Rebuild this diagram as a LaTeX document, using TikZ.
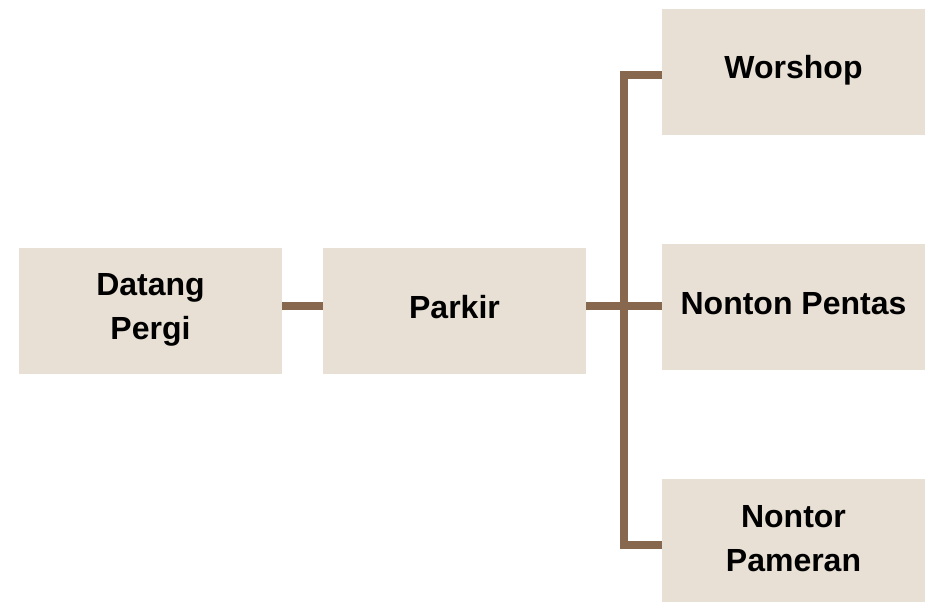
\documentclass[tikz,border=0pt]{standalone}
\usepackage{fontspec}
\setmainfont{Liberation Sans}
\definecolor{boxfill}{HTML}{E8E0D4}
\definecolor{linkc}{HTML}{87684F}
\begin{document}
\begin{tikzpicture}[x=1pt,y=1pt,
  box/.style={fill=boxfill,draw=none,minimum width=263pt,minimum height=126pt,inner sep=0pt},
  lbl/.style={inner sep=0pt,align=center,font=\fontsize{32}{44}\selectfont\bfseries,text=black},
  link/.style={draw=linkc,line width=8pt,line join=miter}]
\useasboundingbox (0,0) rectangle (934,602);
\node[box] (datang) at (150.5,291) {};
\node[box] (parkir) at (454.5,291) {};
\node[box] (worshop) at (793.5,530) {};
\node[box] (pentas) at (793.5,295) {};
\node[box] (pameran) at (793.5,60) {};
\node[lbl,yshift=1pt] (tdatang) at (datang.center) {Datang\\Pergi};
\node[lbl,yshift=3.5pt] (tparkir) at (parkir.center) {Parkir};
\node[lbl,yshift=1.5pt] (tworshop) at (worshop.center) {Worshop};
\node[lbl,yshift=3pt] (tpentas) at (pentas.center) {Nonton Pentas};
\node[lbl,yshift=3.5pt] (tpameran) at (pameran.center) {Nontor\\Pameran};
\coordinate (jt) at (624,527);
\coordinate (jm) at (624,296);
\coordinate (jb) at (624,57);
\draw[link] ([yshift=5pt]datang.east) -- ([yshift=5pt]parkir.west);
\draw[link] ([yshift=5pt]parkir.east) -- (jm) -- (jm -| pentas.west);
\draw[link] (jt -| worshop.west) -- (jt) -- (jb) -- (jb -| pameran.west);
\end{tikzpicture}
\end{document}
